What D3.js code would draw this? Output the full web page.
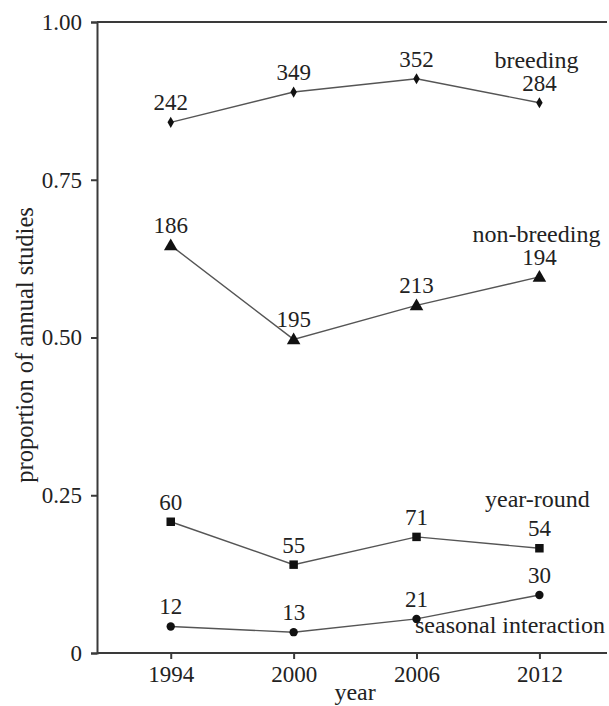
<!DOCTYPE html>
<html>
<head>
<meta charset="utf-8">
<script src="https://cdn.jsdelivr.net/npm/d3@7"></script>
<style>
  body { margin: 0; background: #fff; }
  svg text { font-family: "Liberation Serif", "DejaVu Serif", serif; fill: #222; }
</style>
</head>
<body>
<svg id="chart" width="609" height="706"></svg>
<script>
/* ============================
   DATA
============================ */
const years = [1994, 2000, 2006, 2012];
const yTicks = [0, 0.25, 0.5, 0.75, 1];
const yTickLabels = ["0", "0.25", "0.50", "0.75", "1.00"];

const breedingVals = [0.841, 0.889, 0.910, 0.872];
const breedingN = [242, 349, 352, 284];
const nonBreedingVals = [0.646, 0.497, 0.551, 0.596];
const nonBreedingN = [186, 195, 213, 194];
const yearRoundVals = [0.208, 0.140, 0.184, 0.166];
const yearRoundN = [60, 55, 71, 54];
const seasonalVals = [0.042, 0.033, 0.054, 0.092];
const seasonalN = [12, 13, 21, 30];

const series = [
  { name: "breeding", vals: breedingVals, n: breedingN, marker: "diamond" },
  { name: "non-breeding", vals: nonBreedingVals, n: nonBreedingN, marker: "triangle" },
  { name: "year-round", vals: yearRoundVals, n: yearRoundN, marker: "square" },
  { name: "seasonal interaction", vals: seasonalVals, n: seasonalN, marker: "circle" }
];

/* ============================
   SCALES
============================ */
const svg = d3.select("#chart");
const mLeft = 97, mRight = 607, mTop = 22, mBottom = 653;

const x = d3.scaleLinear().domain([1990.4, 2015.3]).range([mLeft, mRight]);
const y = d3.scaleLinear().domain([0, 1]).range([mBottom, mTop]);

/* ============================
   AXES
============================ */
const axisColor = "#3a3a3a";

const gy = svg.append("g")
  .attr("transform", `translate(${mLeft},0)`)
  .call(d3.axisLeft(y).tickValues(yTicks)
    .tickFormat((d, i) => yTickLabels[i]).tickSizeOuter(0).tickSize(6).tickPadding(9));

const gx = svg.append("g")
  .attr("transform", `translate(0,${mBottom})`)
  .call(d3.axisBottom(x).tickValues(years).tickFormat(d3.format("d"))
    .tickSizeOuter(0).tickSize(6).tickPadding(7));

[gx, gy].forEach(g => {
  g.selectAll("path, line").attr("stroke", axisColor).attr("stroke-width", 2);
  g.selectAll("text").attr("font-size", 23).attr("fill", "#222")
    .style("font-family", '"Liberation Serif", serif');
});
gx.select(".domain").attr("d", `M${mLeft},0H${mRight}`);

// línea superior en 1.00
svg.append("line")
  .attr("x1", mLeft).attr("x2", mRight)
  .attr("y1", y(1)).attr("y2", y(1))
  .attr("stroke", axisColor).attr("stroke-width", 2);

// títulos
svg.append("text")
  .attr("transform", `translate(33,345) rotate(-90)`)
  .attr("text-anchor", "middle")
  .attr("font-size", 24.5)
  .text("proportion of annual studies");

svg.append("text")
  .attr("x", x(2003)).attr("y", 700)
  .attr("text-anchor", "middle")
  .attr("font-size", 24)
  .text("year");

/* ============================
   SERIES
============================ */
const line = d3.line().x((d, i) => x(years[i])).y(d => y(d));

const symbolType = {
  diamond: d3.symbolDiamond,
  triangle: d3.symbolTriangle,
  square: d3.symbolSquare,
  circle: d3.symbolCircle
};
const symbolSize = { diamond: 36, triangle: 80, square: 72, circle: 55 };

series.forEach(s => {
  svg.append("path")
    .datum(s.vals)
    .attr("fill", "none")
    .attr("stroke", "#555")
    .attr("stroke-width", 1.4)
    .attr("d", line);

  svg.selectAll(null)
    .data(s.vals)
    .enter()
    .append("path")
    .attr("d", d3.symbol().type(symbolType[s.marker]).size(symbolSize[s.marker]))
    .attr("fill", "#111")
    .attr("transform", (d, i) => `translate(${x(years[i])},${y(d) + (s.marker === "triangle" ? 1 : 0)})`);

  svg.selectAll(null)
    .data(s.vals)
    .enter()
    .append("text")
    .attr("x", (d, i) => x(years[i]))
    .attr("y", d => y(d) - 12)
    .attr("text-anchor", "middle")
    .attr("font-size", 23)
    .text((d, i) => s.n[i]);
});

// etiquetas de serie
const lastX = x(years[3]);
svg.append("text").attr("x", lastX - 3).attr("y", y(breedingVals[3]) - 35)
  .attr("text-anchor", "middle").attr("font-size", 24).text("breeding");
svg.append("text").attr("x", lastX - 3).attr("y", y(nonBreedingVals[3]) - 35)
  .attr("text-anchor", "middle").attr("font-size", 24).text("non-breeding");
svg.append("text").attr("x", lastX - 2).attr("y", y(yearRoundVals[3]) - 41)
  .attr("text-anchor", "middle").attr("font-size", 24).text("year-round");
svg.append("text").attr("x", 415).attr("y", y(seasonalVals[3]) + 38)
  .attr("text-anchor", "start").attr("font-size", 24).text("seasonal interaction");
</script>
</body>
</html>
